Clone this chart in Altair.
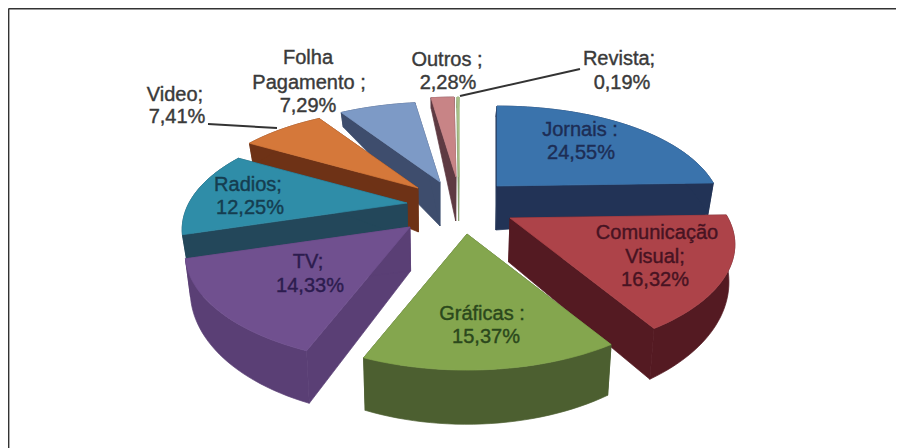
import math
import altair as alt

# ---- chart values -------------------------------------------------------
names = ["Jornais", "Comunicação Visual", "Gráficas", "TV", "Radios", "Video",
         "Folha Pagamento", "Outros", "Revista"]
values = [24.55, 16.32, 15.37, 14.33, 12.25, 7.41, 7.29, 2.28, 0.19]
label_lines = [
    ["Jornais :", "24,55%"], ["Comunicação", "Visual;", "16,32%"],
    ["Gráficas :", "15,37%"], ["TV;", "14,33%"], ["Radios;", "12,25%"],
    ["Video;", "7,41%"], ["Folha", "Pagamento ;", "7,29%"],
    ["Outros ;", "2,28%"], ["Revista;", "0,19%"],
]

# ---- styling and layout (absolute page pixels) --------------------------
top_colors = ["#3a73ac", "#ad4349", "#84a64e", "#70508f", "#2f8da8", "#d5783a",
              "#7d9ac6", "#c88486", "#a9c088"]
wall_colors = ["#223356", "#541a22", "#4c5f30", "#5a3f75", "#23475a", "#6e3216",
               "#3e4d6d", "#5e3a42", "#8aa070"]
apex = [(497, 186), (510, 218), (467, 234), (410, 227), (407, 203), (418, 188),
        (440, 182), (456, 177), (459, 177)]
wall_scale = [1.0, 1.0, 1.0, 1.0, 0.8, 1.0, 1.0, 1.0, 1.0]
label_pos = [
    [(580, 130), (581, 153)], [(657, 233), (655, 257), (655, 280)],
    [(482, 314), (486, 337)], [(308, 262), (310, 286)], [(248, 185), (250, 208)],
    [(175, 95), (177, 117)], [(308, 58), (309, 83), (308, 106)],
    [(447, 60), (448, 83)], [(619, 59), (622, 83)],
]
label_colors = ["#1d2d55", "#471322", "#2b481c", "#2c1c4e", "#153d50", "#3a3a3a",
                "#3a3a3a", "#3a3a3a", "#3a3a3a"]
draw_order = [8, 7, 6, 5, 4, 3, 0, 1, 2]
leader_lines = [(208, 124, 277, 128), (580, 69, 460, 96)]
RX, RY, PERSP = 218, 108, 0.26
OX, OY = 8, 8


def project(ax, ay, r, theta):
    u, v = r * math.sin(theta), -r * math.cos(theta)
    s = 1 + PERSP * v
    return ax + RX * u * s, ay + RY * v * s, r, v


def depth_at(x, r, v, k):
    d = (44 - 11.6 * r * r + 21.8 * v) * k
    return (440 - x) * 0.02, d


def feature(ring, fill):
    pts = [[round(x - OX, 2), round(y - OY, 2)] for x, y in ring]
    pts.append(pts[0])
    return {"type": "Feature", "properties": {"fill": fill},
            "geometry": {"type": "Polygon", "coordinates": [pts]}}


total = sum(values)
starts, acc = [], 0.0
for val in values:
    starts.append(acc)
    acc += val

features = []
for i in draw_order:
    a0 = starts[i] / total * 2 * math.pi
    a1 = (starts[i] + values[i]) / total * 2 * math.pi
    n = max(2, int(values[i] * 2))
    ax, ay = apex[i]
    centre = project(ax, ay, 0, a0)
    rim = [project(ax, ay, 1, a0 + (a1 - a0) * j / n) for j in range(n + 1)]

    def lower(p):
        dx, dy = depth_at(p[0], p[2], p[3], wall_scale[i])
        return (p[0] + dx, p[1] + dy)

    # cut faces and rim band, each a single polygon so no seams show
    features.append(feature([centre[:2], rim[0][:2], lower(rim[0]), lower(centre)], wall_colors[i]))
    features.append(feature([centre[:2], rim[-1][:2], lower(rim[-1]), lower(centre)], wall_colors[i]))
    features.append(feature([p[:2] for p in rim] + [lower(p) for p in reversed(rim)], wall_colors[i]))
    features.append(feature([centre[:2]] + [p[:2] for p in rim], top_colors[i]))

shapes = alt.Chart(alt.Data(values=features)).mark_geoshape(strokeWidth=0.7).encode(
    fill=alt.Fill("properties.fill:N", scale=None, legend=None),
    stroke=alt.Stroke("properties.fill:N", scale=None, legend=None),
).project(type="identity", scale=1, translate=[0, 0])

text_rows = []
for i, lines in enumerate(label_lines):
    for line, (x, y) in zip(lines, label_pos[i]):
        text_rows.append({"x": x - OX, "y": y - OY, "t": line, "c": label_colors[i]})
labels = alt.Chart(alt.Data(values=text_rows)).mark_text(
    font="Liberation Sans", fontSize=20, align="center", baseline="middle", strokeWidth=0.4
).encode(
    x=alt.X("x:Q", scale=None, axis=None),
    y=alt.Y("y:Q", scale=None, axis=None),
    text="t:N",
    color=alt.Color("c:N", scale=None, legend=None),
    stroke=alt.Stroke("c:N", scale=None, legend=None),
)

leaders = alt.Chart(alt.Data(values=[
    {"x": a - OX, "y": b - OY, "x2": c - OX, "y2": d - OY} for a, b, c, d in leader_lines
])).mark_rule(color="#333333", strokeWidth=2).encode(
    x=alt.X("x:Q", scale=None, axis=None), x2="x2:Q",
    y=alt.Y("y:Q", scale=None, axis=None), y2="y2:Q",
)

frame = alt.Chart(alt.Data(values=[
    {"x": 0.6, "y": 0.6, "x2": 888, "y2": 0.6},
    {"x": 0.6, "y": 0.6, "x2": 0.6, "y2": 440},
])).mark_rule(color="#333333", strokeWidth=1.6).encode(
    x=alt.X("x:Q", scale=None, axis=None), x2="x2:Q",
    y=alt.Y("y:Q", scale=None, axis=None), y2="y2:Q",
)

chart = alt.layer(frame, shapes, leaders, labels).properties(
    width=888, height=440, padding=0, background="white",
    autosize=alt.AutoSizeParams(type="none"),
).configure_view(stroke=None)

chart.save("out.html", embed_options={"renderer": "svg", "actions": False})
